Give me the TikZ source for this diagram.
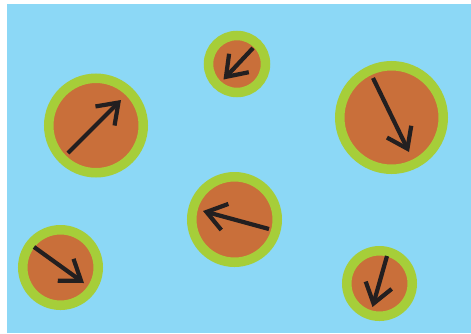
\documentclass[tikz,border=0pt]{standalone}
\usepackage{xcolor}
\usepackage{tikz}
\usetikzlibrary{arrows.meta}
\definecolor{skyfill}{HTML}{8CD8F6}
\definecolor{ringdraw}{HTML}{A6CE39}
\definecolor{corefill}{HTML}{C96F3A}
\definecolor{arrdraw}{HTML}{231F20}
\tikzset{
  disc/.style={circle, draw=ringdraw, fill=corefill, line width=9.5pt, inner sep=0pt},
  arr/.style={-{Straight Barb[length=19pt, width=27pt, line join=miter]}, line width=4.2pt, draw=arrdraw},
}

\begin{document}
\begin{tikzpicture}[x=1pt, y=-1pt]
  \useasboundingbox (0,0) rectangle (471,333);
  \fill[skyfill] (7,4) rectangle (471,333);
  % discs
  \node[disc, minimum size=94.5pt] (d1) at (96,125.5) {};
  \node[disc, minimum size=57pt] (d2) at (237,64) {};
  \node[disc, minimum size=103.5pt] (d3) at (391.5,117.5) {};
  \node[disc, minimum size=85.5pt] (d4) at (234.5,219.5) {};
  \node[disc, minimum size=75.5pt] (d5) at (60.5,267.5) {};
  \node[disc, minimum size=65.5pt] (d6) at (379.5,283.5) {};
  % arrow ends
  \coordinate (a1) at (68,153);   \coordinate (b1) at (121,100);
  \coordinate (a2) at (253,48);   \coordinate (b2) at (223.5,79.5);
  \coordinate (a3) at (373,78);   \coordinate (b3) at (409,152);
  \coordinate (a4) at (269,229);  \coordinate (b4) at (203,211);
  \coordinate (a5) at (34,247);   \coordinate (b5) at (84,283);
  \coordinate (a6) at (387,256);  \coordinate (b6) at (372.5,307);
  \draw[arr] (a1) -- (b1);
  \draw[arr] (a2) -- (b2);
  \draw[arr] (a3) -- (b3);
  \draw[arr] (a4) -- (b4);
  \draw[arr] (a5) -- (b5);
  \draw[arr] (a6) -- (b6);
\end{tikzpicture}
\end{document}
